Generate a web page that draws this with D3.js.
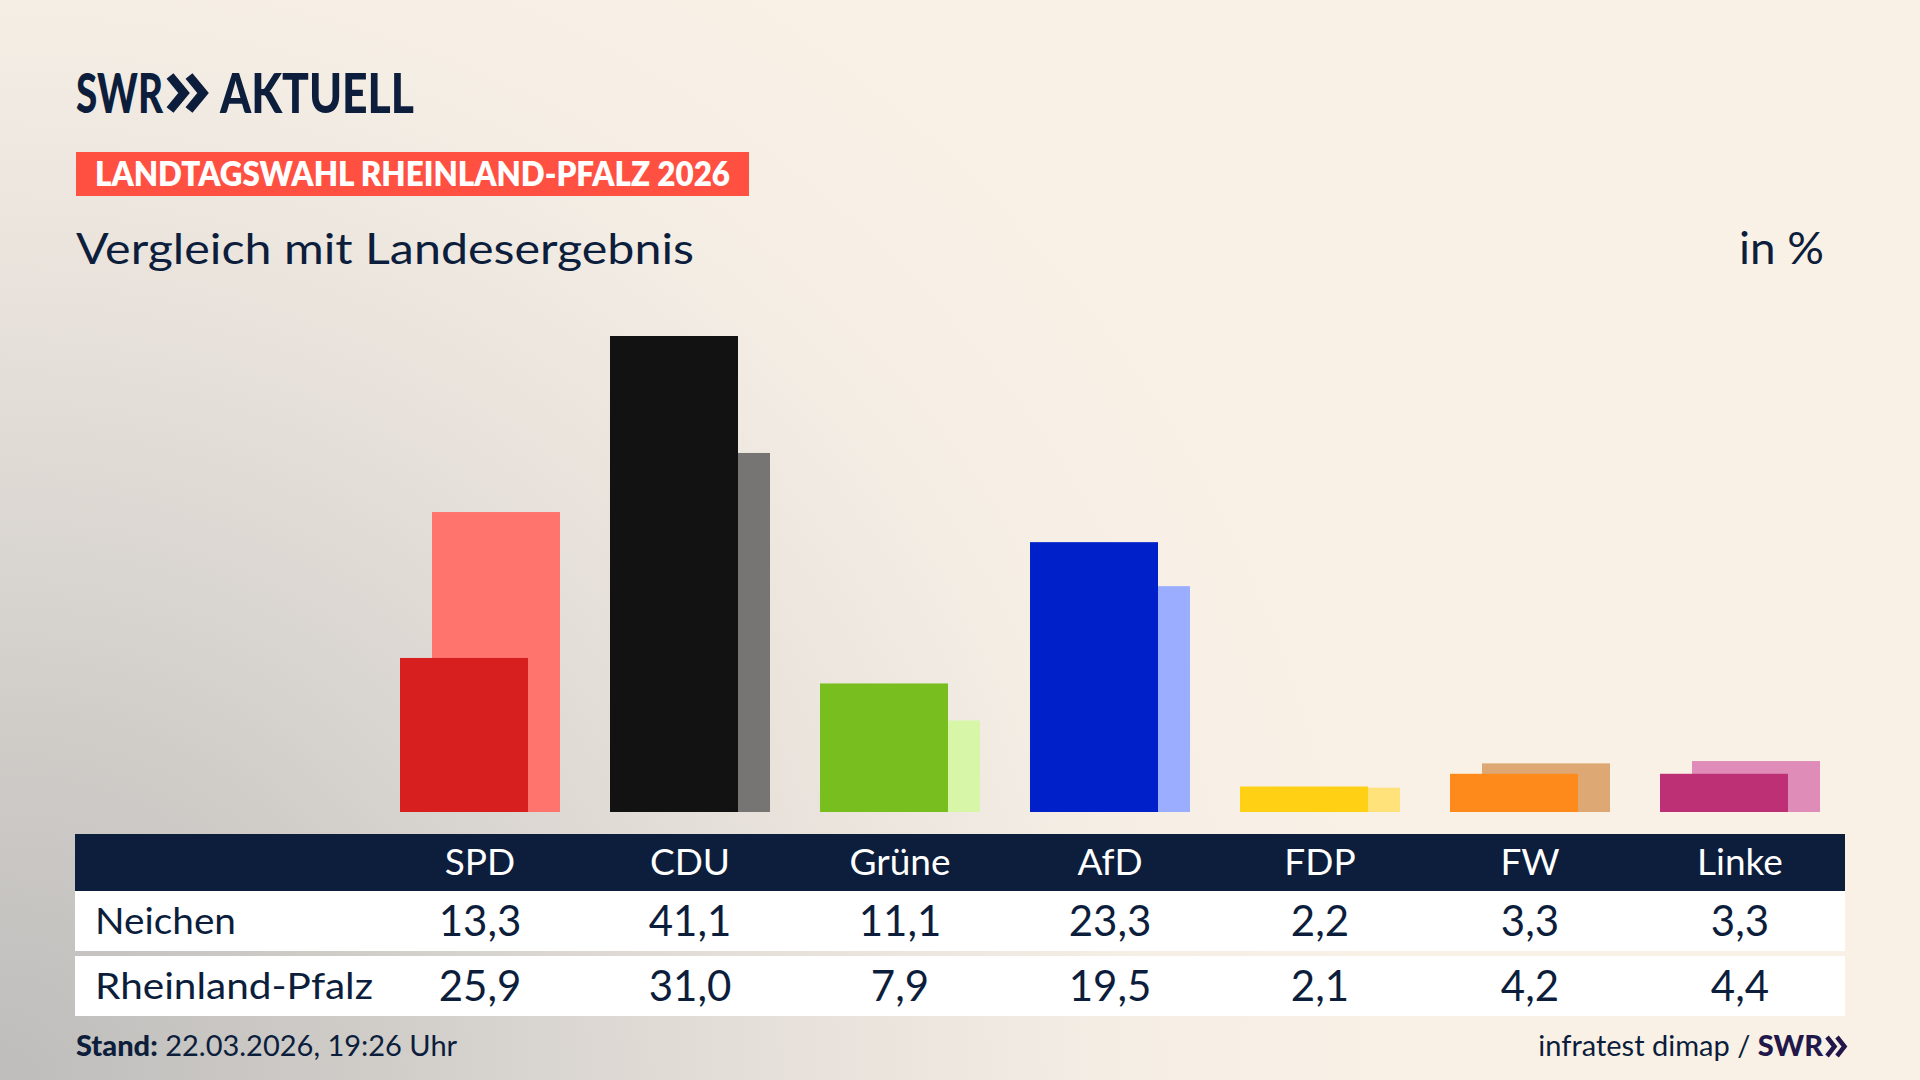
<!DOCTYPE html>
<html lang="de">
<head>
<meta charset="utf-8">
<title>Vergleich mit Landesergebnis</title>
<script src="https://cdn.jsdelivr.net/npm/d3@7"></script>
<style>
  html, body { margin: 0; padding: 0; background: #FAF1E6; }
  svg { display: block; }
  text { font-family: Lato, "Noto Sans", sans-serif; }
</style>
</head>
<body>
<svg id="chart" width="1920" height="1080"></svg>
<script>
// ---- Data ----
const parties = ["SPD", "CDU", "Grüne", "AfD", "FDP", "FW", "Linke"];
const neichen = [13.3, 41.1, 11.1, 23.3, 2.2, 3.3, 3.3];
const rheinlandPfalz = [25.9, 31.0, 7.9, 19.5, 2.1, 4.2, 4.4];
const colorsNeichen = ["#D71F1F", "#121212", "#78BE1E", "#0021C9", "#FFD014", "#FF8A1C", "#BE3075"];
const colorsRlp = ["#FF746C", "#767574", "#D7F6A8", "#9BADFF", "#FFE37A", "#DDA874", "#DF8DB8"];
const rowLabels = ["Neichen", "Rheinland-Pfalz"];

const navy = "#0C1E3C";
const de = d3.formatLocale({decimal: ",", thousands: ".", grouping: [3], currency: ["", " €"]});
const fmt = de.format(".1f");

const svg = d3.select("#chart");
const W = 1920, H = 1080;

// ---- Background ----
const defs = svg.append("defs");
const bg = defs.append("radialGradient").attr("id", "bg")
  .attr("gradientUnits", "userSpaceOnUse")
  .attr("cx", 0).attr("cy", 1080).attr("r", 1450)
  .attr("gradientTransform", "translate(0,1080) scale(1,0.95) translate(0,-1080)");
[[0, "#BEBDBB"], [0.25, "#CFCCC8"], [0.52, "#E5DFD9"], [0.78, "#F5EEE5"], [1, "#FAF1E6"]]
  .forEach(([o, c]) => bg.append("stop").attr("offset", o).attr("stop-color", c));
svg.append("rect").attr("width", W).attr("height", H).attr("fill", "url(#bg)");

// ---- Logo ----
const logo = svg.append("g").attr("fill", navy);
logo.append("text").attr("x", 76).attr("y", 113)
  .attr("font-size", 55).attr("font-weight", 900)
  .attr("textLength", 87).attr("lengthAdjust", "spacingAndGlyphs")
  .text("SWR");
[170, 189].forEach(x0 => {
  logo.append("polyline")
    .attr("points", `${x0},76 ${x0 + 14},93 ${x0},110`)
    .attr("fill", "none").attr("stroke", navy).attr("stroke-width", 9)
    .attr("stroke-linejoin", "miter");
});
logo.append("text").attr("x", 220).attr("y", 113)
  .attr("font-size", 55).attr("font-weight", 900)
  .attr("textLength", 194).attr("lengthAdjust", "spacingAndGlyphs")
  .text("AKTUELL");

// ---- Tag ----
svg.append("rect").attr("x", 76).attr("y", 152).attr("width", 673).attr("height", 44).attr("fill", "#FF5042");
svg.append("text").attr("x", 95).attr("y", 186)
  .attr("font-size", 33).attr("font-weight", 800).attr("fill", "#FFFFFF")
  .attr("textLength", 635).attr("lengthAdjust", "spacingAndGlyphs")
  .text("LANDTAGSWAHL RHEINLAND-PFALZ 2026");

// ---- Subtitle ----
svg.append("text").attr("x", 76).attr("y", 264)
  .attr("font-size", 43).attr("fill", navy)
  .attr("textLength", 618).attr("lengthAdjust", "spacingAndGlyphs")
  .text("Vergleich mit Landesergebnis");
svg.append("text").attr("x", 1824).attr("y", 264).attr("text-anchor", "end")
  .attr("font-size", 44).attr("fill", navy)
  .attr("textLength", 85).attr("lengthAdjust", "spacingAndGlyphs")
  .text("in %");

// ---- Scales ----
const x = d3.scaleBand().domain(parties).range([400, 1820]).paddingInner(50 / 210).paddingOuter(0);
const yMax = d3.max(neichen.concat(rheinlandPfalz));
const y = d3.scaleLinear().domain([0, yMax]).range([812, 336]);
const barW = x.bandwidth() * 0.8;
const off = x.bandwidth() * 0.2;

// ---- Bars ----
const groups = svg.append("g").selectAll("g").data(parties).join("g");
groups.append("rect")
  .attr("x", d => x(d) + off)
  .attr("y", (d, i) => y(rheinlandPfalz[i]))
  .attr("width", barW)
  .attr("height", (d, i) => y(0) - y(rheinlandPfalz[i]))
  .attr("fill", (d, i) => colorsRlp[i]);
groups.append("rect")
  .attr("x", d => x(d))
  .attr("y", (d, i) => y(neichen[i]))
  .attr("width", barW)
  .attr("height", (d, i) => y(0) - y(neichen[i]))
  .attr("fill", (d, i) => colorsNeichen[i]);

// ---- Table ----
const tblX = 75, tblW = 1770;
const cx = d => x(d) + x.bandwidth() / 2;
svg.append("rect").attr("x", tblX).attr("y", 834).attr("width", tblW).attr("height", 57).attr("fill", navy);
svg.append("g").selectAll("text").data(parties).join("text")
  .attr("x", cx).attr("y", 875).attr("text-anchor", "middle")
  .attr("font-size", 37).attr("fill", "#FFFFFF")
  .text(d => d);

const rows = [
  {label: rowLabels[0], values: neichen, top: 891, len: 141},
  {label: rowLabels[1], values: rheinlandPfalz, top: 956, len: 278}
];
rows.forEach(r => {
  svg.append("rect").attr("x", tblX).attr("y", r.top).attr("width", tblW).attr("height", 60).attr("fill", "#FFFFFF");
  svg.append("text").attr("x", 95).attr("y", r.top + 43)
    .attr("font-size", 37).attr("fill", navy)
    .attr("textLength", r.len).attr("lengthAdjust", "spacingAndGlyphs")
    .text(r.label);
  svg.append("g").selectAll("text").data(parties).join("text")
    .attr("x", cx).attr("y", r.top + 45).attr("text-anchor", "middle")
    .attr("font-size", 42).attr("fill", navy)
    .text((d, i) => fmt(r.values[i]));
});

// ---- Footer ----
const stand = svg.append("text").attr("x", 76).attr("y", 1056)
  .attr("font-size", 29).attr("fill", navy);
stand.append("tspan").attr("font-weight", 900).text("Stand:");
stand.append("tspan").text(" 22.03.2026, 19:26 Uhr");

const src = svg.append("text").attr("x", 1823).attr("y", 1056).attr("text-anchor", "end")
  .attr("font-size", 29).attr("fill", navy);
src.append("tspan").text("infratest dimap / ");
src.append("tspan").attr("font-weight", 900).attr("fill", "#21174A").text("SWR");
[1827, 1837].forEach(x0 => {
  svg.append("polyline")
    .attr("points", `${x0},1037 ${x0 + 7.5},1046.5 ${x0},1056`)
    .attr("fill", "none").attr("stroke", "#21174A").attr("stroke-width", 4.5);
});
</script>
</body>
</html>
